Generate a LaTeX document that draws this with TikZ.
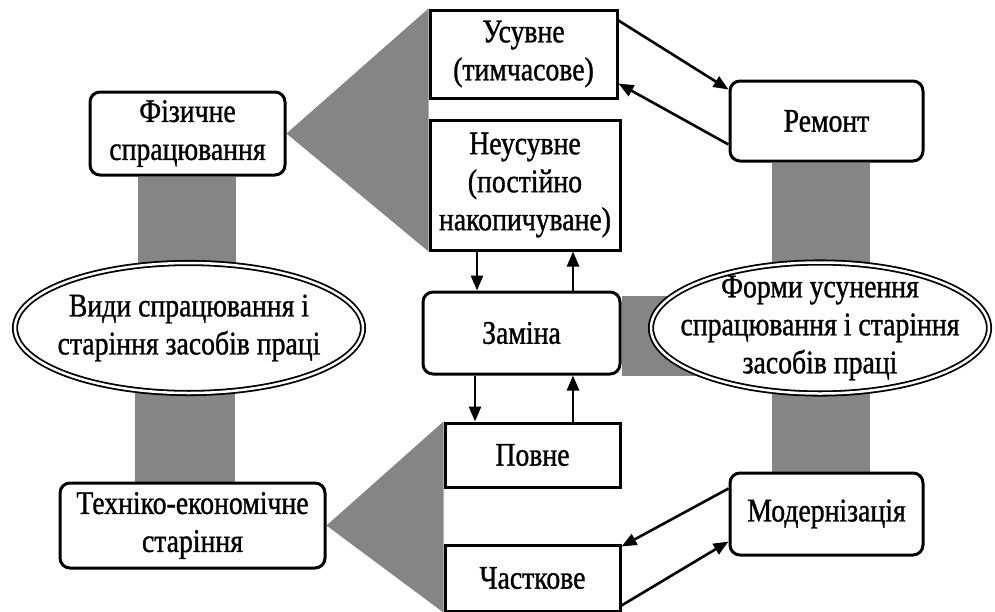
\documentclass[tikz,border=0pt]{standalone}
\usepackage{fontspec}
\setmainfont{Liberation Serif}[FakeStretch=0.84,FakeBold=1]
\usetikzlibrary{arrows.meta,shapes.geometric,calc,backgrounds}

\begin{document}
\begin{tikzpicture}[x=1pt,y=-1pt,
  font=\fontsize{33}{38}\selectfont,
  box/.style={draw,line width=3pt,fill=white,align=center,inner sep=0pt},
  rbox/.style={box,rounded corners=10pt},
  oval/.style={ellipse,draw,line width=1.8pt,double,double distance=2.5pt,fill=white,
    align=center,inner xsep=-30pt,inner ysep=-10pt},
  band/.style={fill=black!48},
  arr/.style={line width=2.6pt,-{Triangle[length=15pt,width=12pt]}}]
\useasboundingbox (0,0) rectangle (995,611);
\node[box,minimum width=187pt,minimum height=88pt] (usuvne) at (523.5,54) {Усувне\\(тимчасове)};
\node[box,minimum width=190pt,minimum height=130pt] (neusuvne) at (525,185) {Неусувне\\(постійно\\накопичуване)};
\node[rbox,minimum width=197pt,minimum height=82pt] (zamina) at (521.5,333) {Заміна};
\node[box,minimum width=175pt,minimum height=64pt] (povne) at (532.5,455) {Повне};
\node[box,minimum width=175pt,minimum height=66pt] (chastkove) at (532.5,578) {Часткове};
\node[rbox,minimum width=193pt,minimum height=80pt] (remont) at (826.5,121) {Ремонт};
\node[rbox,minimum width=193pt,minimum height=82pt] (modern) at (826.5,514) {Модернізація};
\node[rbox,minimum width=195pt,minimum height=83pt] (fizychne) at (187.5,133.5) {Фізичне\\спрацювання};
\node[rbox,minimum width=265pt,minimum height=85pt] (tekhniko) at (192.5,525.5) {Техніко-економічне\\старіння};
\node[oval,minimum width=348pt,minimum height=130pt] (vydy) at (189,328) {Види спрацювання і\\старіння засобів праці};
\node[oval,minimum width=338pt,minimum height=131pt] (formy) at (820,328) {Форми усунення\\спрацювання і старіння\\засобів праці};

\begin{scope}[on background layer]
\fill[band] (fizychne.east) -- (usuvne.north west) -- (neusuvne.south west) -- cycle;
\fill[band] (tekhniko.east) -- (povne.north west) -- (chastkove.south west) -- cycle;
\fill[band] ($(fizychne.south)+(-50,0)$) rectangle ($(vydy.center)+(47,0)$);
\fill[band] ($(vydy.center)+(-54,0)$) rectangle ($(tekhniko.north)+(42.5,0)$);
\fill[band] ($(remont.south)+(-54.5,0)$) rectangle ($(formy.center)+(50,0)$);
\fill[band] ($(formy.center)+(-48,0)$) rectangle ($(modern.north)+(43.5,0)$);
\fill[band] ($(zamina.north east)+(0,5)$) rectangle (formy.center |- zamina.south);
\end{scope}

\draw[arr] ($(usuvne.north east)+(0,12)$) -- ($(remont.north west)+(0,10)$);
\draw[arr] ($(remont.south west)+(0,-18)$) -- ($(usuvne.south east)+(0,-16)$);
\draw[arr] ($(neusuvne.south)+(-48,0)$) -- ($(zamina.north)+(-44.5,0)$);
\draw[arr] ($(zamina.north)+(51.5,0)$) -- ($(neusuvne.south)+(48,0)$);
\draw[arr] ($(zamina.south)+(-46.5,0)$) -- ($(povne.north)+(-57.5,0)$);
\draw[arr] ($(povne.north)+(40.5,0)$) -- ($(zamina.south)+(51.5,0)$);
\draw[arr] ($(modern.north west)+(0,17)$) -- ($(chastkove.north east)+(0,3)$);
\draw[arr] ($(chastkove.south east)+(0,-7)$) -- ($(modern.south west)+(0,-15)$);
\end{tikzpicture}
\end{document}
